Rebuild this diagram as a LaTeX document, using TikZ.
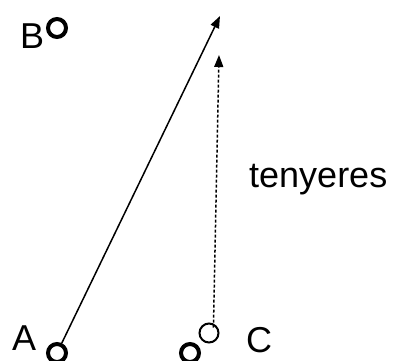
\documentclass[tikz,border=0pt]{standalone}
\usepackage{fontspec}
\setmainfont{Liberation Sans}
\usetikzlibrary{arrows.meta}
\begin{document}
\begin{tikzpicture}[x=1pt, y=-1pt, font=\fontsize{36}{40}\selectfont,
  lbl/.style={anchor=base west, inner sep=0pt},
  pt/.style={draw, circle, line width=4pt, minimum size=18pt, inner sep=0pt},
  ptthin/.style={draw, circle, line width=2pt, minimum size=19pt, inner sep=0pt},
  arr/.style={line width=1.5pt, -{Triangle[length=12pt, width=9pt]}}]
  \useasboundingbox (0,0) rectangle (393,360);
  % points
  \node[pt] (b) at (57,28) {}; \node[lbl] (lb) at (20,48) {B};
  \node[pt] (a) at (57,353) {}; \node[lbl] (la) at (12,350) {A};
  \node[pt] (d) at (190,353) {};
  \node[ptthin] (c) at (209,333) {}; \node[lbl] (lc) at (246,352) {C};
  \node[lbl] (lt) at (249,187) {tenyeres};
  % vectors
  \coordinate (t1) at (220,16); \coordinate (t2) at (219,55);
  \draw[arr] (a) -- (t1);
  \draw[arr, dash pattern=on 3pt off 2pt] (c.north east) ++(-3,2) -- (t2);
\end{tikzpicture}
\end{document}
